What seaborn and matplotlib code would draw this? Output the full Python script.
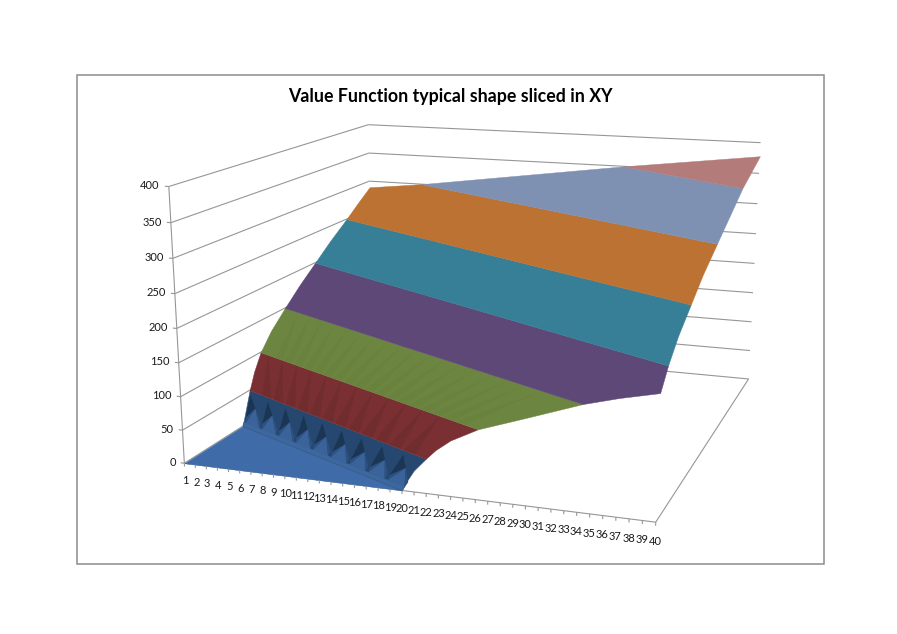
import numpy as np
import matplotlib
matplotlib.use("Agg")
import matplotlib.pyplot as plt
import seaborn as sns
from mpl_toolkits.mplot3d.art3d import Poly3DCollection, Line3DCollection

W, H = 897, 634

categories = list(range(1, 41))
value_ticks = [0, 50, 100, 150, 200, 250, 300, 350, 400]
title = "Value Function typical shape sliced in XY"

# surface outline: category, depth (0 front, 1 back), value
# left side then back side, value rising all the way
back_x = np.array([1, 1, 1, 1, 1, 1, 1, 1, 1, 1, 1, 1, 6.6, 27.2, 40])
back_y = np.array([.26, .30, .325, .36, .415, .49, .57, .66, .75, .85, .925, 1, 1, 1, 1])
back_z = np.array([0, 50, 75, 100, 125, 150, 175, 200, 225, 250, 270, 289, 300, 350, 378])
# front side then right side, value rising all the way
front_x = np.array([20, 20.5, 21, 22, 22.8, 24, 26.2, 29.8, 34.3, 37, 40, 40, 40, 40, 40, 40, 40, 40, 40])
front_y = np.array([0, 0, 0, 0, 0, 0, 0, 0, 0, 0, 0, .06, .14, .25, .36, .50, .64, .78, 1])
front_z = np.array([0, 17, 31, 50, 64, 80, 100, 122, 150, 163, 175, 200, 225, 250, 275, 300, 325, 350, 378])

band_levels = [50, 100, 150, 200, 250, 300, 350, 400]
band_colors = ["#264870", "#7A3032", "#6C8540", "#5E4877", "#367F97", "#BC7233", "#7F91B2", "#B47B7B"]
floor_color = "#3F6CA8"
grid_color = "#969696"
text_color = "#1a1a1a"

# where the corners of the chart box land on the canvas, in pixels from top left
box_corners = [(1, 0, 0), (1, 0, 400), (1, 1, 0), (1, 1, 400), (40, 1, 0), (40, 1, 400), (40, 0, 0)]
box_pixels = [(183, 462), (170, 187), (374, 345), (367, 124), (748, 378), (761, 143), (656, 523)]


def fit_camera(world, screen):
    rows = []
    for (x, y, z), (u, v) in zip(world, screen):
        rows.append([x, y, z, 1, 0, 0, 0, 0, -u * x, -u * y, -u * z, -u])
        rows.append([0, 0, 0, 0, x, y, z, 1, -v * x, -v * y, -v * z, -v])
    return np.linalg.svd(np.array(rows, dtype=float))[2][-1].reshape(3, 4)


sns.set_style("white")
plt.rcParams["font.family"] = ["Lato", "DejaVu Sans"]

fig = plt.figure(figsize=(W / 100, H / 100), dpi=100, facecolor="white")
ax = fig.add_axes([0, 0, 1, 1], projection="3d")
ax.set_axis_off()
ax.patch.set_visible(False)
ax.computed_zorder = False

camera = fit_camera(box_corners, box_pixels)


def get_proj():
    # excel's view is easier to pin from the box corners than from elev/azim
    pos = ax.get_position()
    x0, x1 = ax.viewLim.intervalx
    y0, y1 = ax.viewLim.intervaly
    sx = (x1 - x0) / (pos.width * W)
    sy = (y1 - y0) / (pos.height * H)
    to_view = np.array([[sx, 0, x0 - pos.x0 * W * sx],
                        [0, -sy, y0 + (H - pos.y0 * H) * sy],
                        [0, 0, 1]])
    m = to_view @ camera
    return np.vstack([m[0], m[1], [0, 1, 0, 0], m[2]])


ax.get_proj = get_proj


def label(x, y, z, s, **kw):
    p = camera @ np.array([x, y, z, 1.0])
    fig.text(p[0] / p[2] / W, 1 - p[1] / p[2] / H, s, va="center", fontsize=8, color=text_color, **kw)


def on_back(z):
    return np.array([np.interp(z, back_z, back_x), np.interp(z, back_z, back_y), z])


def on_front(z):
    return np.array([np.interp(z, front_z, front_x), np.interp(z, front_z, front_y), z])


def band_outline(lo, hi):
    hi = min(hi, back_z.max())
    a = [on_back(z) for z in np.r_[lo, back_z[(back_z > lo) & (back_z < hi)], hi]]
    b = [on_front(z) for z in np.r_[lo, front_z[(front_z > lo) & (front_z < hi)], hi]]
    return a + b[::-1]


def across(t, f, lo, hi):
    # t runs along the band from left to front, f from its lower to its upper edge
    low = (1 - t) * on_back(lo) + t * on_front(lo)
    high = (1 - t) * on_back(hi) + t * on_front(hi)
    return (1 - f) * low + f * high


def add_polys(polys, colors, zorder=1, lw=0.3):
    coll = Poly3DCollection(polys, facecolors=colors, edgecolors="none" if lw == 0 else colors, linewidths=lw)
    coll.set_zorder(zorder)
    ax.add_collection3d(coll, autolim=False)


def add_lines(segs, zorder=2):
    coll = Line3DCollection(segs, colors=grid_color, linewidths=0.8)
    coll.set_zorder(zorder)
    ax.add_collection3d(coll, autolim=False)


# walls
wall = []
for v in value_ticks:
    wall.append([(1, 0, v), (1, 1, v)])
    wall.append([(1, 1, v), (40, 1, v)])
wall.append([(1, 0, 0), (1, 0, 400)])
wall.append([(1, 0, 0), (40, 0, 0)])
wall.append([(40, 0, 0), (40, 1, 0)])
add_lines(wall, zorder=0.5)

# flat part of the surface
add_polys([[(1, 0, 0), (20, 0, 0), (1, back_y[0], 0)]], [floor_color])

lo = 0
for hi, col in zip(band_levels, band_colors):
    add_polys([band_outline(lo, hi)], [col], zorder=1.1)
    lo = hi

# the spiky cliff in the first band
n_teeth = 9
dt = 1 / n_teeth
teeth = [[across(0, 0, 0, 50), across(1, 0, 0, 50), across(1, .12, 0, 50), across(0, .12, 0, 50)]]
tooth_colors = ["#3C679F"]
for i in range(n_teeth):
    a = (i + .1) * dt
    tip = across(a + .42 * dt, .58, 0, 50)
    foot_l = across(a + .05 * dt, .11, 0, 50)
    foot_r = across(a + .9 * dt, .11, 0, 50)
    next_low = across(a + .9 * dt, .26, 0, 50)
    low = across(a, .26, 0, 50)
    teeth.append([low, foot_l, tip])
    tooth_colors.append("#2D5281")
    teeth.append([foot_l, foot_r, tip])
    tooth_colors.append("#3A6399")
    teeth.append([tip, foot_r, next_low])
    tooth_colors.append("#2D5281")
    teeth.append([across(a, .88, 0, 50), low, tip])
    tooth_colors.append("#1B3655")
add_polys(teeth, tooth_colors, zorder=1.2, lw=0.1)

# faint facets on the next bands
for (lo, hi), alpha, n in zip([(50, 100), (100, 150)], [0.07, 0.02], [12, 18]):
    facets = []
    for i in range(n):
        t0 = .08 + .88 * i / n
        step = .88 / n
        facets.append([across(t0, 0, lo, hi), across(t0 + step * .8, 0, lo, hi), across(t0 - step * .5, 1, lo, hi)])
    add_polys(facets, [(0, 0, 0, alpha)] * len(facets), zorder=1.3, lw=0)

# axes
ticks = []
for v in value_ticks:
    ticks.append([(0.65, 0, v), (1, 0, v)])
    label(0.2, 0, v, str(v), ha="right")
for c in categories:
    ticks.append([(c, 0, 0), (c, 0, -5)])
    label(c, 0, -27, str(c), ha="center")
add_lines(ticks)

fig.add_artist(plt.Rectangle((77 / W, 1 - 564 / H), 747 / W, 489 / H, fill=False,
                             ec="#8c8c8c", lw=1.1, transform=fig.transFigure))
fig.text(450 / W, 1 - 96.5 / H, title, ha="center", va="center", fontsize=12.75, fontweight="bold", color="black")

fig.savefig("out.png", dpi=100)
